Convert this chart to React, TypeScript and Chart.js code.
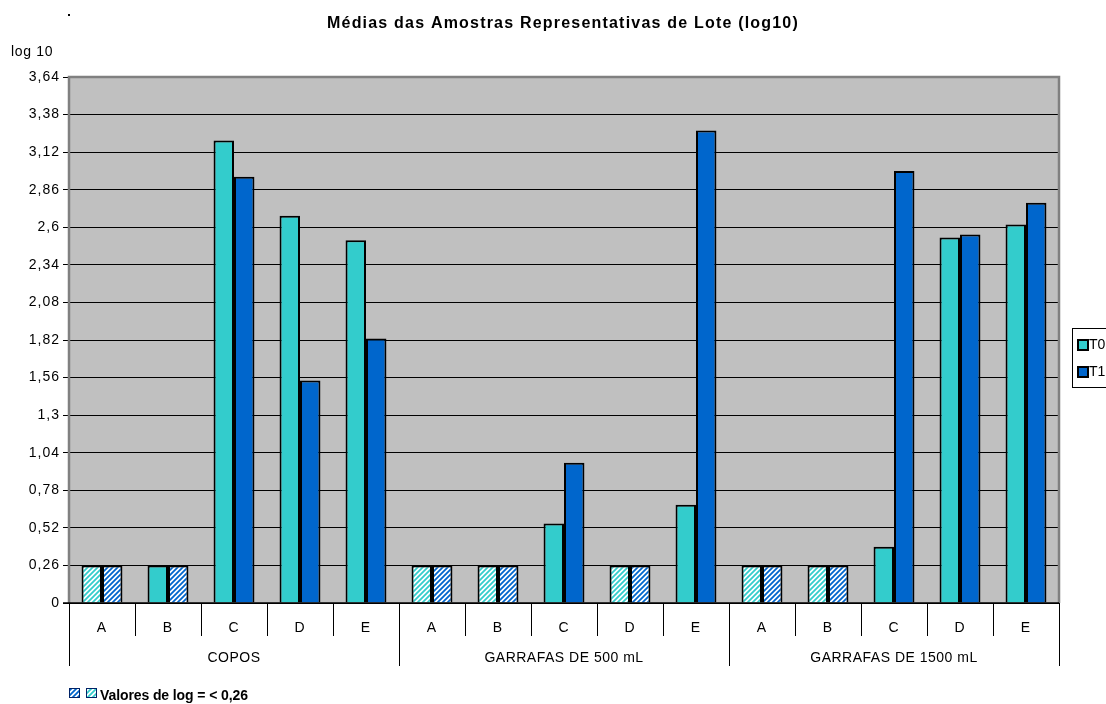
import { useEffect, useRef } from "react";
import { Chart, registerables } from "chart.js";

Chart.register(...registerables);

const groups = ["COPOS", "GARRAFAS DE 500 mL", "GARRAFAS DE 1500 mL"];
const subCategories = ["A", "B", "C", "D", "E"];
const categories = groups.flatMap(() => subCategories);
const seriesNames = ["T0", "T1"];
const t0Values = [0.26, 0.26, 3.2, 2.68, 2.51, 0.26, 0.26, 0.55, 0.26, 0.68, 0.26, 0.26, 0.39, 2.53, 2.62];
const t1Values = [0.26, 0.26, 2.95, 1.54, 1.83, 0.26, 0.26, 0.97, 0.26, 3.27, 0.26, 0.26, 2.99, 2.55, 2.77];
// true = valor < 0,26 (barra hachurada)
const t0Below = [true, false, false, false, false, true, true, false, true, false, true, true, false, false, false];
const t1Below = [true, true, false, false, false, true, true, false, true, false, true, true, false, false, false];
const yTickValues = [0, 0.26, 0.52, 0.78, 1.04, 1.3, 1.56, 1.82, 2.08, 2.34, 2.6, 2.86, 3.12, 3.38, 3.64];

const titleText = "Médias das Amostras Representativas de Lote (log10)";
const yAxisTitle = "log 10";
const noteText = "Valores de log = < 0,26";

const T0_COLOR = "#33CCCC";
const T1_COLOR = "#0066CC";
const FONT = "'Liberation Sans', Arial, sans-serif";

function makeHatch(color: string): CanvasPattern | string {
  const c = document.createElement("canvas");
  c.width = 5;
  c.height = 5;
  const g = c.getContext("2d");
  if (!g) return color;
  g.fillStyle = "#FFFFFF";
  g.fillRect(0, 0, 5, 5);
  g.strokeStyle = color;
  g.lineWidth = 1.8;
  g.beginPath();
  g.moveTo(-1, 6);
  g.lineTo(6, -1);
  g.moveTo(-1, 1);
  g.lineTo(1, -1);
  g.moveTo(4, 6);
  g.lineTo(6, 4);
  g.stroke();
  const p = g.createPattern(c, "repeat");
  return p || color;
}

export default function App() {
  const ref = useRef<HTMLCanvasElement | null>(null);

  useEffect(() => {
    if (!ref.current) return;
    const hatchT0 = makeHatch(T0_COLOR);
    const hatchT1 = makeHatch(T1_COLOR);

    const decor = {
      id: "decor",
      beforeDraw(chart: any) {
        const { ctx, chartArea } = chart;
        ctx.save();
        ctx.fillStyle = "#FFFFFF";
        ctx.fillRect(0, 0, chart.width, chart.height);
        ctx.fillStyle = "#C0C0C0";
        ctx.fillRect(chartArea.left, chartArea.top, chartArea.right - chartArea.left, chartArea.bottom - chartArea.top);
        ctx.restore();
        (ctx as any).letterSpacing = "1px";
      },
      afterDraw(chart: any) {
        const { ctx, chartArea } = chart;
        const x = chart.scales.x;
        ctx.save();
        // plot border (gray)
        ctx.strokeStyle = "#808080";
        ctx.lineWidth = 2.5;
        ctx.beginPath();
        ctx.moveTo(chartArea.left, chartArea.bottom);
        ctx.lineTo(chartArea.left, chartArea.top);
        ctx.lineTo(chartArea.right, chartArea.top);
        ctx.lineTo(chartArea.right, chartArea.bottom);
        ctx.stroke();
        // bottom axis line
        ctx.strokeStyle = "#000000";
        ctx.lineWidth = 1.5;
        ctx.beginPath();
        ctx.moveTo(chartArea.left - 6, chartArea.bottom);
        ctx.lineTo(chartArea.right, chartArea.bottom);
        ctx.stroke();

        // x axis separators
        const n = categories.length;
        const half = (x.getPixelForValue(1) - x.getPixelForValue(0)) / 2;
        ctx.lineWidth = 1;
        ctx.strokeStyle = "#000000";
        for (let i = 0; i <= n; i++) {
          const px = Math.round(i < n ? x.getPixelForValue(i) - half : x.getPixelForValue(n - 1) + half) + 0.5;
          const isGroup = i % subCategories.length === 0;
          ctx.beginPath();
          ctx.moveTo(px, chartArea.bottom);
          ctx.lineTo(px, chartArea.bottom + (isGroup ? 63 : 33));
          ctx.stroke();
        }
        // group labels
        ctx.fillStyle = "#000000";
        ctx.font = `14px ${FONT}`;
        (ctx as any).letterSpacing = "0.5px";
        ctx.textAlign = "center";
        ctx.textBaseline = "middle";
        groups.forEach((gName, gi) => {
          const a = x.getPixelForValue(gi * subCategories.length) - half;
          const b = x.getPixelForValue(gi * subCategories.length + subCategories.length - 1) + half;
          ctx.fillText(gName, (a + b) / 2, chartArea.bottom + 55);
        });

        // title
        ctx.font = `bold 16px ${FONT}`;
        (ctx as any).letterSpacing = "1.2px";
        ctx.fillText(titleText, 563, 24);
        // dot
        ctx.fillRect(68, 14, 2, 2);
        // y axis title
        ctx.font = `14px ${FONT}`;
        (ctx as any).letterSpacing = "0.7px";
        ctx.textAlign = "left";
        ctx.fillText(yAxisTitle, 11, 52);

        // legend (partially outside)
        (ctx as any).letterSpacing = "0px";
        ctx.fillStyle = "#FFFFFF";
        ctx.fillRect(1072.5, 328.5, 60, 59);
        ctx.strokeStyle = "#000000";
        ctx.lineWidth = 1;
        ctx.strokeRect(1072.5, 328.5, 60, 59);
        const legendColors = [T0_COLOR, T1_COLOR];
        seriesNames.forEach((s, i) => {
          const y = 340 + i * 27;
          ctx.fillStyle = legendColors[i];
          ctx.fillRect(1078, y, 10, 10);
          ctx.strokeStyle = "#000000";
          ctx.lineWidth = 2;
          ctx.strokeRect(1078, y, 10, 10);
          ctx.fillStyle = "#000000";
          ctx.font = `14px ${FONT}`;
          ctx.textAlign = "left";
          ctx.textBaseline = "middle";
          ctx.fillText(s, 1089, y + 5.5);
        });

        // note at bottom-left
        const sq = [hatchT1, hatchT0];
        sq.forEach((p, i) => {
          const sx = 69 + i * 17;
          ctx.fillStyle = p as any;
          ctx.fillRect(sx, 688, 11, 10);
          ctx.strokeStyle = "#002266";
          ctx.lineWidth = 1;
          ctx.strokeRect(sx + 0.5, 688.5, 10, 9);
        });
        ctx.fillStyle = "#000000";
        ctx.font = `bold 14px ${FONT}`;
        ctx.textAlign = "left";
        ctx.textBaseline = "alphabetic";
        (ctx as any).letterSpacing = "-0.1px";
        ctx.fillText(noteText, 100, 700);
        (ctx as any).letterSpacing = "0px";
        ctx.restore();
      },
    };

    const chart = new Chart(ref.current, {
      type: "bar",
      data: {
        labels: categories,
        datasets: [
          {
            label: seriesNames[0],
            data: t0Values,
            backgroundColor: t0Values.map((_, i) => (t0Below[i] ? hatchT0 : T0_COLOR)) as any,
            borderColor: "#000000",
            borderWidth: 2,
            borderSkipped: "bottom",
            categoryPercentage: 0.62,
            barPercentage: 1,
          },
          {
            label: seriesNames[1],
            data: t1Values,
            backgroundColor: t1Values.map((_, i) => (t1Below[i] ? hatchT1 : T1_COLOR)) as any,
            borderColor: "#000000",
            borderWidth: 2,
            borderSkipped: "bottom",
            categoryPercentage: 0.62,
            barPercentage: 1,
          },
        ],
      },
      options: {
        animation: false,
        responsive: false,
        maintainAspectRatio: false,
        events: [],
        layout: { padding: { top: 77, right: 47, left: 0, bottom: 0 } },
        plugins: {
          legend: { display: false },
          title: { display: false },
          tooltip: { enabled: false },
        },
        scales: {
          x: {
            grid: { display: false },
            border: { display: false },
            ticks: {
              color: "#000000",
              font: { family: FONT, size: 14 },
              padding: 9,
              maxRotation: 0,
              autoSkip: false,
            },
            afterFit(scale: any) {
              scale.height = 101;
            },
          },
          y: {
            min: 0,
            max: 3.64,
            afterBuildTicks(scale: any) {
              scale.ticks = yTickValues.map((v) => ({ value: v }));
            },
            grid: {
              color: "#000000",
              lineWidth: 1,
              tickLength: 6,
              tickColor: "#000000",
            },
            border: { display: false },
            ticks: {
              color: "#000000",
              font: { family: FONT, size: 14 },
              padding: 3,
              callback: (v: any) => String(Number(Number(v).toFixed(2))).replace(".", ","),
            },
            afterFit(scale: any) {
              scale.width = 69;
            },
          },
        },
      },
      plugins: [decor],
    });
    return () => chart.destroy();
  }, []);

  return (
    <div style={{ position: "absolute", left: 0, top: 0, width: 1106, height: 704 }}>
      <canvas ref={ref} width={1106} height={704} style={{ display: "block", width: 1106, height: 704 }} />
    </div>
  );
}
